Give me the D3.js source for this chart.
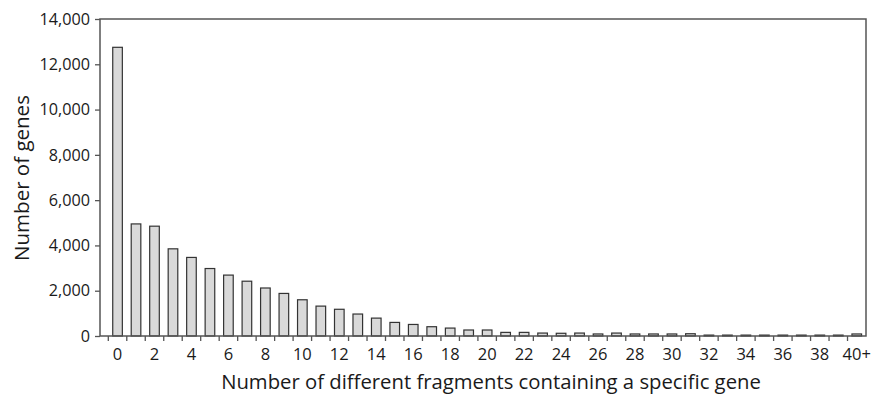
<!DOCTYPE html>
<html>
<head>
<meta charset="utf-8">
<script src="https://cdn.jsdelivr.net/npm/d3@7"></script>
<style>
  html, body { margin: 0; padding: 0; background: #fff; }
  svg { display: block; }
  text { font-family: "Open Sans", "Noto Sans", sans-serif; fill: #1a1a1a; }
</style>
</head>
<body>
<svg id="chart" width="875" height="396"></svg>
<script>
// ---- data ----
const categories = ["0","1","2","3","4","5","6","7","8","9","10",
  "11","12","13","14","15","16","17","18","19","20",
  "21","22","23","24","25","26","27","28","29","30",
  "31","32","33","34","35","36","37","38","39","40+"];
const geneCounts = [12750, 4950, 4850, 3850, 3470, 2980, 2690, 2420, 2120, 1880, 1600,
  1320, 1180, 970, 790, 600, 510, 410, 350, 265, 265,
  160, 160, 130, 120, 130, 90, 130, 90, 90, 90,
  100, 40, 40, 40, 40, 40, 40, 40, 40, 90];
const yTicks = [0, 2000, 4000, 6000, 8000, 10000, 12000, 14000];
const xLabelCats = categories.filter((d, i) => i % 2 === 0);
const xTitle = "Number of different fragments containing a specific gene";
const yTitle = "Number of genes";

// ---- layout ----
const svg = d3.select("#chart");
const plot = { left: 100, right: 866, top: 19, bottom: 336 };
const bandStart = 108.3;

const x = d3.scaleBand()
  .domain(categories)
  .range([bandStart, plot.right])
  .paddingInner(0.48)
  .paddingOuter(0.24);

const y = d3.scaleLinear()
  .domain([0, 14000])
  .range([plot.bottom, plot.top]);

// bars
svg.append("g")
  .selectAll("rect")
  .data(categories.map((c, i) => ({ c, v: geneCounts[i] })))
  .join("rect")
  .attr("x", d => x(d.c))
  .attr("width", x.bandwidth())
  .attr("y", d => y(d.v))
  .attr("height", d => y(0) - y(d.v))
  .attr("fill", "#d9d9d9")
  .attr("stroke", "#333")
  .attr("stroke-width", 1.2);

// frame box
svg.append("rect")
  .attr("x", plot.left)
  .attr("y", plot.top)
  .attr("width", plot.right - plot.left)
  .attr("height", plot.bottom - plot.top)
  .attr("fill", "none")
  .attr("stroke", "#555")
  .attr("stroke-width", 1.5);

// y axis
const yAxis = svg.append("g")
  .attr("transform", `translate(${plot.left},0)`)
  .call(d3.axisLeft(y).tickValues(yTicks).tickFormat(d3.format(",")).tickSize(5).tickPadding(5));
yAxis.select(".domain").remove();
yAxis.selectAll(".tick line").attr("stroke", "#555").attr("stroke-width", 1.3);
yAxis.selectAll("text").style("font-size", "16.2px").attr("fill", "#1a1a1a");

// x tick marks at band boundaries
const boundaries = categories.map(c => x(c) + x.bandwidth() / 2 - x.step() / 2);
svg.append("g")
  .selectAll("line")
  .data(boundaries)
  .join("line")
  .attr("x1", d => d).attr("x2", d => d)
  .attr("y1", plot.bottom).attr("y2", plot.bottom + 5)
  .attr("stroke", "#555")
  .attr("stroke-width", 1.3);

// x labels
const xAxis = svg.append("g")
  .attr("transform", `translate(0,${plot.bottom})`)
  .call(d3.axisBottom(x).tickValues(xLabelCats).tickSize(0).tickPadding(12));
xAxis.select(".domain").remove();
xAxis.selectAll("text").style("font-size", "16.5px").attr("fill", "#1a1a1a");

// titles
svg.append("text")
  .attr("x", 491)
  .attr("y", 389)
  .attr("text-anchor", "middle")
  .style("font-size", "20.3px")
  .text(xTitle);

svg.append("text")
  .attr("transform", `translate(29,178) rotate(-90)`)
  .attr("text-anchor", "middle")
  .style("font-size", "20.5px")
  .text(yTitle);
</script>
</body>
</html>
